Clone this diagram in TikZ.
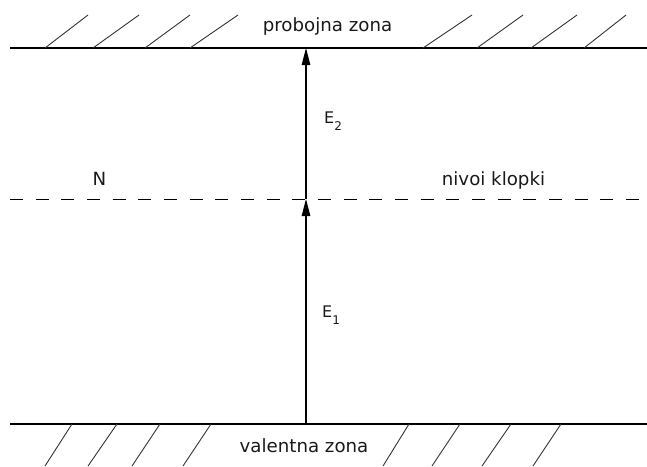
\documentclass[tikz,border=0pt]{standalone}
\usepackage{fontspec}
\setmainfont{DejaVu Sans}
\usetikzlibrary{arrows.meta}
\begin{document}
\begin{tikzpicture}[x=1pt,y=-1pt,
  band/.style={line width=1.1pt,black},
  hatch/.style={line width=0.9pt,black!80},
  trap/.style={line width=1pt,black,dash pattern=on 13pt off 12.67pt},
  jump/.style={line width=1.1pt,black,-{Triangle[length=17pt,width=8.5pt]}},
  lbl/.style={inner sep=0pt,anchor=base,font=\fontsize{18.2}{20}\selectfont,text=black!90},
  elbl/.style={inner sep=0pt,anchor=base west,font=\fontsize{16}{18}\selectfont,text=black!90}]
\useasboundingbox (0,0) rectangle (647,466);
% bands
\coordinate (tl) at (10,48); \coordinate (tr) at (647,48);
\coordinate (bl) at (10,424); \coordinate (br) at (647,424);
\coordinate (dl) at (10,199); \coordinate (dr) at (640,199);
\draw[band] (tl) -- (tr);
\draw[band] (bl) -- (br);
\draw[trap] (dl) -- (dr);
% hatches top
\foreach \a/\b in {45/88,93/139,145/190,190/238,423/472,477/523,531/577,584/626}
  \draw[hatch] (\a,48) -- (\b,15);
% hatches bottom
\foreach \a/\b in {72/45,117/88,160/132,211/183,409/383,460/432,511/482,561/533}
  \draw[hatch] (\a,424) -- (\b,466);
% arrows
\coordinate (v0) at (306,424);
\coordinate (n0) at (306,199);
\coordinate (t0) at (306,48);
\draw[jump] (v0) -- (n0);
\draw[jump] (n0) -- (t0);
% labels
\node[lbl] (cb) at (327.5,31) {probojna zona};
\node[lbl] (vb) at (304,452) {valentna zona};
\node[lbl] (nn) at (99.5,185) {N};
\node[lbl] (nk) at (493.5,185) {nivoi klopki};
\node[elbl] (e2) at (324,123) {E\raisebox{-7pt}{\fontsize{12}{12}\selectfont 2}};
\node[elbl] (e1) at (322,317) {E\raisebox{-7pt}{\fontsize{12}{12}\selectfont 1}};
\end{tikzpicture}
\end{document}
